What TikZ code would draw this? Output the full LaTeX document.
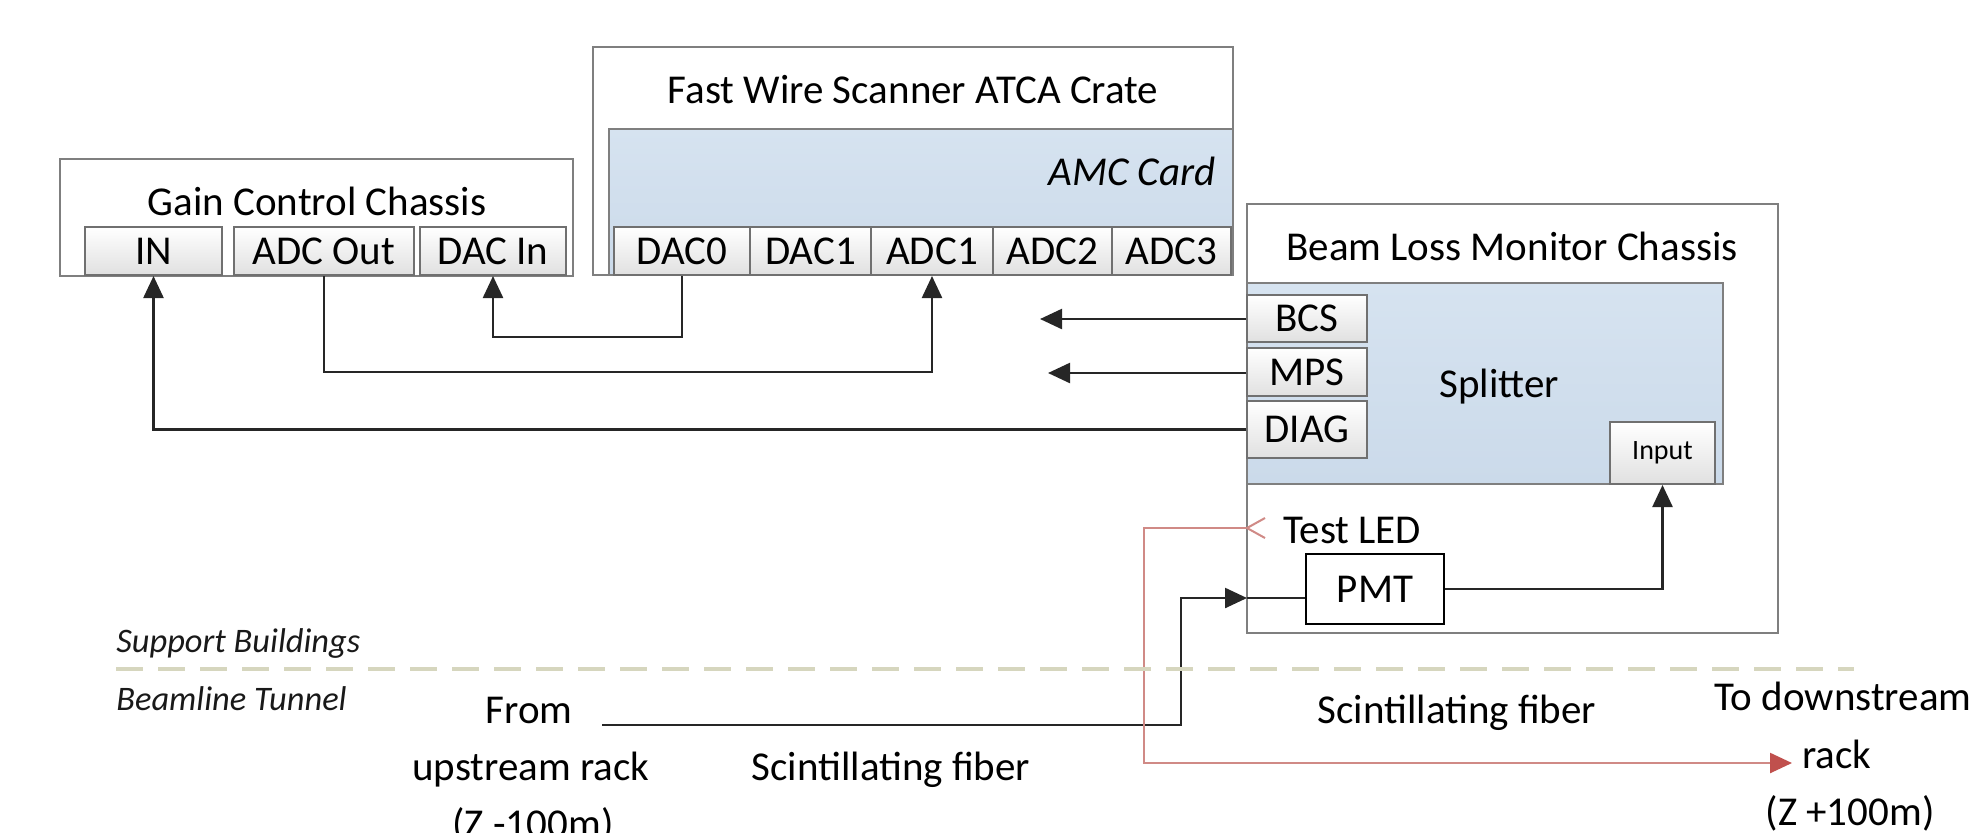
\documentclass[tikz,border=0pt]{standalone}
\usepackage{fontspec}
\setmainfont{Carlito}
\usetikzlibrary{arrows.meta,calc}
\definecolor{bordergray}{HTML}{7F7F7F}
\definecolor{portgray}{HTML}{707070}
\definecolor{bluetop}{HTML}{D6E3F0}
\definecolor{bluebot}{HTML}{CBDAEA}
\definecolor{dashcol}{HTML}{D6D6BE}
\definecolor{ledline}{HTML}{D08A86}
\definecolor{ledarrow}{HTML}{C0504D}
\begin{document}
\begin{tikzpicture}[x=0.5pt,y=-0.5pt,
  mainfont/.style={font=\fontsize{20.5}{24}\selectfont},
  txt/.style={mainfont, inner sep=0pt},
  lbl/.style={font=\fontsize{17.2}{20}\selectfont\itshape, inner sep=0pt, text=black!90},
  chassis/.style={draw=bordergray, line width=1pt, fill=white, inner sep=0pt},
  card/.style={draw=bordergray, line width=1pt, top color=bluetop, bottom color=bluebot, inner sep=0pt, mainfont},
  port/.style={draw=portgray, line width=1pt, top color=white, bottom color=black!12, inner sep=0pt, mainfont},
  wire/.style={draw=black!85, line width=1.2pt},
  arr/.style={-{Triangle[length=11pt,width=10pt]}},
  redwire/.style={draw=ledline, line width=1.2pt}]
\useasboundingbox (0,0) rectangle (1979,832);

% Gain Control Chassis
\node[chassis, minimum width=256.5pt, minimum height=58.5pt] (gcc) at (316.5,217.5) {};
\node[txt, anchor=base] (gcct) at (317,215) {Gain Control Chassis};
\node[port, minimum width=68.5pt, minimum height=24pt] (in) at (153.5,251) {IN};
\node[port, minimum width=90pt, minimum height=24pt] (adcout) at (324,251) {ADC Out};
\node[port, minimum width=73pt, minimum height=24pt] (dacin) at (493,251) {DAC In};

% ATCA crate
\node[chassis, minimum width=320pt, minimum height=114pt] (atca) at (913,161) {};
\node[txt, anchor=base] (atcat) at (913,103) {Fast Wire Scanner ATCA Crate};
\node[card, minimum width=312pt, minimum height=73pt] (amc) at (921,202) {};
\node[txt, anchor=base east, font=\fontsize{20.5}{24}\selectfont\itshape] (amct) at (1216,185) {AMC Card};
\node[port, minimum width=68pt, minimum height=24pt] (dac0) at (682,251) {DAC0};
\node[port, minimum width=60.5pt, minimum height=24pt] (dac1) at (810.5,251) {DAC1};
\node[port, minimum width=61pt, minimum height=24pt] (adc1) at (932,251) {ADC1};
\node[port, minimum width=59.5pt, minimum height=24pt] (adc2) at (1052.5,251) {ADC2};
\node[port, minimum width=59.5pt, minimum height=24pt] (adc3) at (1171.5,251) {ADC3};

% Beam Loss Monitor Chassis
\node[chassis, minimum width=265.5pt, minimum height=214.5pt] (blm) at (1512.5,418.5) {};
\node[txt, anchor=base] (blmt) at (1512,260) {Beam Loss Monitor Chassis};
\node[card, minimum width=238pt, minimum height=100.5pt] (split) at (1485,383.5) {};
\node[txt] (splitt) at (1499,387) {Splitter};
\node[port, minimum width=60pt, minimum height=23.5pt] (bcs) at (1307,318.5) {BCS};
\node[port, minimum width=60pt, minimum height=24pt] (mps) at (1307,372) {MPS};
\node[port, minimum width=60pt, minimum height=28.5pt] (diag) at (1307,429.5) {DIAG};
\node[port, minimum width=52.5pt, minimum height=31pt, font=\fontsize{14}{16}\selectfont] (input) at (1662.5,453) {Input};
\node[draw=black, line width=1pt, fill=white, minimum width=69pt, minimum height=35pt, txt] (pmt) at (1375,589) {PMT};
\node[txt, anchor=base west] (led) at (1283,543) {Test LED};

% connectors at the top
\coordinate (y1) at (0,337);
\coordinate (y2) at (0,372);
\draw[wire, arr] (dac0.south) -- (dac0.south |- y1) -| (dacin.south);
\draw[wire, arr] (adcout.south) -- (adcout.south |- y2) -| (adc1.south);
\draw[wire, arr] (diag.west) -| (in.south);
\coordinate (bcsend) at (1040,319);
\coordinate (mpsend) at (1048,373);
\draw[wire, arr] (bcs.west |- bcsend) -- (bcsend);
\draw[wire, arr] (mps.west |- mpsend) -- (mpsend);

% PMT connections
\coordinate (fromst) at (602,725);
\coordinate (fcorner) at (1181,598);
\coordinate (pmtin) at (1247,598);
\draw[wire, arr] (fromst) -| (fcorner) -- (pmtin);
\draw[wire] (pmtin) -- (pmt.west |- pmtin);
\draw[wire, arr] (pmt.east) -| (input.south);

% Test LED red fiber
\coordinate (ledtip) at (1247,528);
\coordinate (redc) at (1144,528);
\coordinate (redd) at (1144,763);
\coordinate (downend) at (1792,763);
\draw[redwire, -{Triangle[length=11pt,width=10pt,color=ledarrow]}] (ledtip) -- (redc) -- (redd) -- (downend);
\draw[draw=ledline, line width=1pt] ($(ledtip)+(18,-10)$) -- (ledtip) -- ($(ledtip)+(18,10)$);

% boundary
\coordinate (dl) at (116,669);
\coordinate (dr) at (1854,669);
\draw[dashcol, line width=2pt, dash pattern=on 13.5pt off 7.5pt] (dl) -- (dr);

% labels
\node[lbl, anchor=base west] (sb) at (116,652) {Support Buildings};
\node[lbl, anchor=base west] (bt) at (116,710) {Beamline Tunnel};
\node[txt, anchor=base] (from1) at (529,723) {From};
\node[txt, anchor=base] (from2) at (531,780) {upstream rack};
\node[txt, anchor=base] (from3) at (533,837) {(Z -100m)};
\node[txt, anchor=base] (sf1) at (891,780) {Scintillating fiber};
\node[txt, anchor=base] (sf2) at (1457,723) {Scintillating fiber};
\node[txt, anchor=base] (to1) at (1843,710) {To downstream};
\node[txt, anchor=base] (to2) at (1837,768) {rack};
\node[txt, anchor=base] (to3) at (1850,825) {(Z +100m)};
\end{tikzpicture}
\end{document}
